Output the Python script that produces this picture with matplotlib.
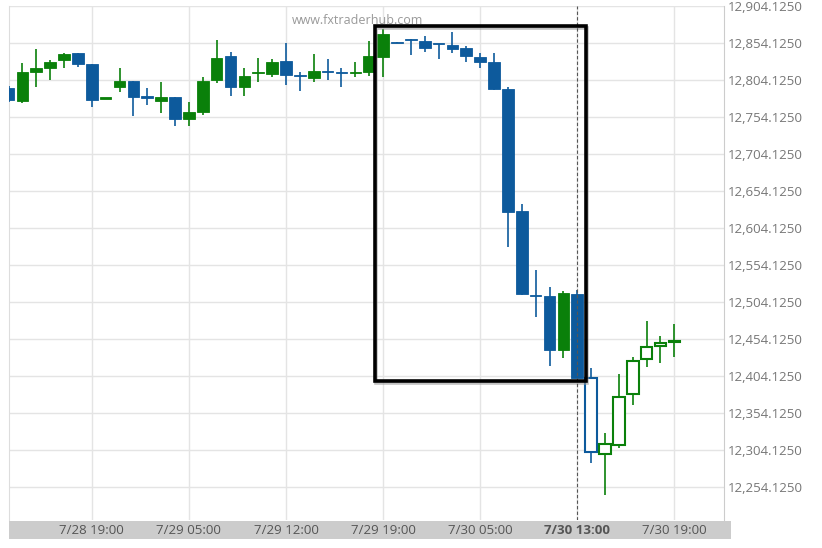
import numpy as np
import matplotlib
matplotlib.use('Agg')
import matplotlib.pyplot as plt
from matplotlib.patches import Rectangle
from matplotlib.ticker import FuncFormatter

plt.rcParams['font.family'] = ['Open Sans', 'DejaVu Sans']

# OHLC values, one per bar, oldest first
opens = [12794.1, 12776.2, 12814.9, 12821.1, 12831.6, 12840.6, 12825.7, 12779.4,
         12794.7, 12803.2, 12781.6, 12776.2, 12781.1, 12751.8, 12761.7, 12804.1,
         12836.9, 12794.7, 12814.0, 12812.6, 12830.6, 12810.4, 12807.6, 12816.2,
         12814.8, 12814.5, 12814.9, 12835.2, 12855.4, 12860.3, 12857.2, 12853.7,
         12851.8, 12847.8, 12835.2, 12829.3, 12792.4, 12627.5, 12513.5, 12512.6,
         12439.7, 12514.9, 12401.4, 12298.7, 12311.3, 12380.2, 12427.1, 12445.5,
         12450.4]
highs = [12796.4, 12827.1, 12846.0, 12831.6, 12841.4, 12841.0, 12826.2, 12780.6,
         12820.3, 12803.2, 12793.3, 12801.4, 12781.5, 12775.2, 12809.0, 12858.6,
         12842.0, 12821.1, 12833.9, 12832.5, 12854.9, 12815.7, 12839.3, 12832.5,
         12820.3, 12828.4, 12857.2, 12873.0, 12855.4, 12860.3, 12864.4, 12853.7,
         12869.8, 12850.5, 12840.6, 12840.6, 12794.4, 12636.5, 12547.7, 12525.2,
         12519.8, 12520.7, 12415.7, 12327.0, 12407.2, 12430.6, 12479.2, 12458.6,
         12474.8]
lows = [12774.8, 12773.0, 12795.5, 12804.5, 12821.1, 12822.5, 12767.6, 12779.4,
        12788.7, 12755.9, 12770.7, 12759.5, 12742.8, 12742.8, 12757.2, 12800.1,
        12783.3, 12783.3, 12802.2, 12808.2, 12797.8, 12789.7, 12802.2, 12804.5,
        12795.5, 12808.2, 12809.9, 12808.2, 12854.4, 12838.3, 12842.8, 12832.5,
        12841.4, 12828.4, 12821.1, 12791.0, 12579.2, 12514.0, 12484.6, 12418.0,
        12428.4, 12401.8, 12286.5, 12243.7, 12306.8, 12365.3, 12417.1, 12421.7,
        12430.6]
closes = [12777.5, 12815.7, 12820.3, 12829.3, 12839.3, 12826.2, 12777.5, 12780.6,
          12803.2, 12781.1, 12780.8, 12781.1, 12751.8, 12760.9, 12803.2, 12834.7,
          12794.7, 12810.3, 12814.9, 12829.3, 12811.3, 12809.4, 12816.7, 12815.2,
          12813.8, 12815.5, 12836.9, 12866.7, 12854.4, 12858.9, 12848.2, 12852.7,
          12846.4, 12837.4, 12829.3, 12792.4, 12625.7, 12514.9, 12512.5, 12439.7,
          12516.3, 12402.2, 12301.2, 12312.2, 12376.5, 12425.2, 12443.3, 12449.1,
          12451.4]

tickPos = [6, 13, 20, 27, 34, 41, 48]
tickLabels = ['7/28 19:00', '7/29 05:00', '7/29 12:00', '7/29 19:00',
              '7/30 05:00', '7/30 13:00', '7/30 19:00']
priceTicks = np.arange(12254.125, 12904.2, 50)

nowIdx = 41  # bars after this one are drawn hollow
boxStart, boxEnd = 26.4, 41.6
boxHigh, boxLow = 12877.2, 12397.1

green = '#0a800a'
blue = '#0d5a9c'

fig = plt.figure(figsize=(8.22, 5.48), dpi=100)
ax = fig.add_axes([9 / 822, 28 / 548, 715 / 822, 513.7 / 548])

# gray band behind the time labels
ax.add_patch(Rectangle((0, -19 / 513.7), 722 / 715, 18 / 513.7, transform=ax.transAxes,
                       facecolor='#cccccc', edgecolor='none', clip_on=False, zorder=-1))

width = 0.84
for i in range(len(opens)):
    o, h, l, c = opens[i], highs[i], lows[i], closes[i]
    col = green if c >= o else blue
    ax.vlines(i, l, h, color=col, lw=1.4, alpha=0.85, zorder=3)
    bottom = min(o, c)
    height = max(abs(c - o), 1.5)
    if i > nowIdx:
        ax.add_patch(Rectangle((i - width / 2, bottom), width, height,
                               facecolor='white', edgecolor=col, lw=1.5, zorder=4))
    else:
        ax.add_patch(Rectangle((i - width / 2, bottom), width, height,
                               facecolor=col, edgecolor=col, lw=0.6, zorder=4))

# highlight box with a soft shadow
ax.add_patch(Rectangle((boxStart + 0.1, boxLow - 1.8), boxEnd - boxStart, boxHigh - boxLow,
                       fill=False, edgecolor='#999999', lw=2.6, alpha=0.6, zorder=5))
ax.add_patch(Rectangle((boxStart, boxLow), boxEnd - boxStart, boxHigh - boxLow,
                       fill=False, edgecolor='black', lw=2.6, zorder=6))

ax.axvline(nowIdx, color='#555555', ls=(0, (3, 2)), lw=0.8, zorder=5)

ax.set_xlim(0.03, 51.58)
ax.set_ylim(12209.9, 12904.125)

ax.set_xticks(tickPos)
ax.set_xticklabels(tickLabels)
ax.get_xticklabels()[5].set_fontweight('bold')
ax.tick_params(axis='x', length=0, pad=3, labelsize=9.5, labelcolor='#555555')

ax.yaxis.tick_right()
ax.set_yticks(priceTicks)
ax.yaxis.set_major_formatter(FuncFormatter(lambda v, p: '{:,.4f}'.format(v)))
ax.tick_params(axis='y', length=0, pad=3, labelsize=9.5, labelcolor='#777777')

ax.grid(True, color='#e4e4e4', lw=1, zorder=0)
ax.set_axisbelow(True)

for s in ['top', 'bottom']:
    ax.spines[s].set_visible(False)
ax.spines['right'].set_color('#cccccc')
ax.spines['left'].set_color('#dddddd')

ax.text(0.487, 0.973, 'www.fxtraderhub.com', transform=ax.transAxes,
        ha='center', va='center', fontsize=9, color='#999999')

fig.savefig('out.png', dpi=100)
